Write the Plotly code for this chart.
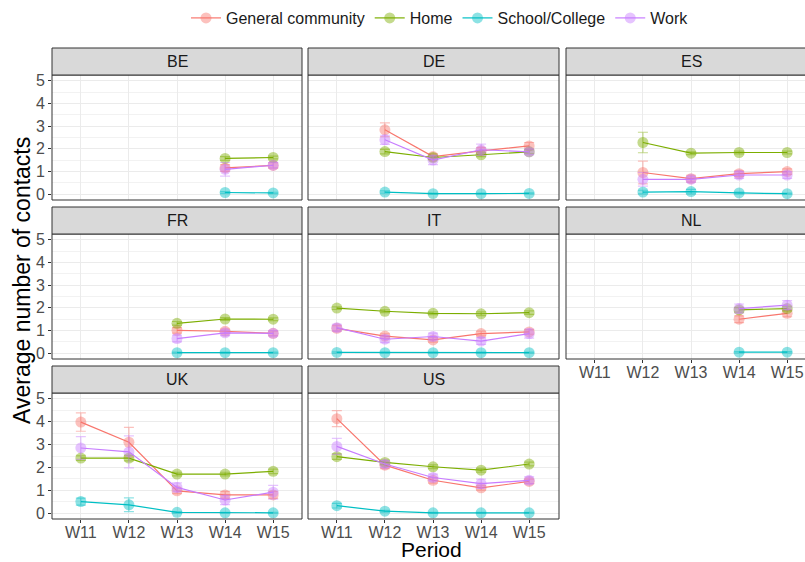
import plotly.graph_objects as go

periods = ["W11", "W12", "W13", "W14", "W15"]
countries = ["BE", "DE", "ES", "FR", "IT", "NL", "UK", "US"]
series_names = ["General community", "Home", "School/College", "Work"]

GENERAL = {
    "BE": [None, None, None, 1.16, 1.27],
    "DE": [None, 2.84, 1.66, 1.91, 2.13],
    "ES": [None, 0.96, 0.69, 0.91, 1.00],
    "FR": [None, None, 1.01, 0.97, 0.88],
    "IT": [1.10, 0.76, 0.59, 0.87, 0.94],
    "NL": [None, None, None, 1.50, 1.76],
    "UK": [3.98, 3.10, 0.98, 0.80, 0.80],
    "US": [4.13, 2.10, 1.44, 1.11, 1.39],
}
HOME = {
    "BE": [None, None, None, 1.58, 1.62],
    "DE": [None, 1.88, 1.62, 1.74, 1.87],
    "ES": [None, 2.28, 1.81, 1.84, 1.84],
    "FR": [None, None, 1.32, 1.51, 1.50],
    "IT": [1.99, 1.85, 1.76, 1.74, 1.79],
    "NL": [None, None, None, 1.91, 1.97],
    "UK": [2.41, 2.41, 1.71, 1.71, 1.83],
    "US": [2.47, 2.22, 2.03, 1.88, 2.15],
}
SCHOOL = {
    "BE": [None, None, None, 0.08, 0.06],
    "DE": [None, 0.10, 0.03, 0.03, 0.04],
    "ES": [None, 0.10, 0.12, 0.06, 0.03],
    "FR": [None, None, 0.03, 0.03, 0.03],
    "IT": [0.04, 0.03, 0.03, 0.03, 0.03],
    "NL": [None, None, None, 0.05, 0.05],
    "UK": [0.51, 0.37, 0.04, 0.02, 0.02],
    "US": [0.33, 0.09, 0.02, 0.02, 0.02],
}
WORK = {
    "BE": [None, None, None, 1.10, 1.28],
    "DE": [None, 2.40, 1.51, 1.96, 1.87],
    "ES": [None, 0.66, 0.66, 0.85, 0.85],
    "FR": [None, None, 0.65, 0.90, 0.88],
    "IT": [1.13, 0.62, 0.74, 0.54, 0.87],
    "NL": [None, None, None, 1.97, 2.12],
    "UK": [2.85, 2.68, 1.13, 0.58, 0.92],
    "US": [2.92, 2.15, 1.56, 1.29, 1.44],
}

GENERAL_ERR = {
    "BE": [None, None, None, 0.15, 0.12],
    "DE": [None, 0.30, 0.12, 0.15, 0.15],
    "ES": [None, 0.50, 0.15, 0.12, 0.12],
    "FR": [None, None, 0.12, 0.10, 0.10],
    "IT": [0.12, 0.10, 0.10, 0.10, 0.10],
    "NL": [None, None, None, 0.15, 0.15],
    "UK": [0.40, 0.65, 0.12, 0.15, 0.15],
    "US": [0.35, 0.15, 0.12, 0.10, 0.10],
}
HOME_ERR = {
    "BE": [None, None, None, 0.08, 0.06],
    "DE": [None, 0.10, 0.08, 0.08, 0.08],
    "ES": [None, 0.45, 0.06, 0.06, 0.06],
    "FR": [None, None, 0.08, 0.06, 0.06],
    "IT": [0.06, 0.06, 0.06, 0.08, 0.08],
    "NL": [None, None, None, 0.10, 0.10],
    "UK": [0.10, 0.12, 0.08, 0.08, 0.10],
    "US": [0.12, 0.10, 0.08, 0.08, 0.08],
}
SCHOOL_ERR = {
    "BE": [None, None, None, 0.04, 0.03],
    "DE": [None, 0.05, 0.02, 0.02, 0.02],
    "ES": [None, 0.08, 0.10, 0.04, 0.02],
    "FR": [None, None, 0.02, 0.02, 0.02],
    "IT": [0.03, 0.02, 0.02, 0.02, 0.02],
    "NL": [None, None, None, 0.03, 0.03],
    "UK": [0.15, 0.30, 0.03, 0.02, 0.02],
    "US": [0.10, 0.04, 0.02, 0.02, 0.02],
}
WORK_ERR = {
    "BE": [None, None, None, 0.30, 0.12],
    "DE": [None, 0.20, 0.20, 0.25, 0.12],
    "ES": [None, 0.30, 0.12, 0.15, 0.15],
    "FR": [None, None, 0.15, 0.12, 0.12],
    "IT": [0.15, 0.15, 0.15, 0.15, 0.20],
    "NL": [None, None, None, 0.20, 0.20],
    "UK": [0.50, 0.70, 0.20, 0.20, 0.30],
    "US": [0.35, 0.15, 0.15, 0.20, 0.15],
}

colors = ["#F8766D", "#7CAE00", "#00BFC4", "#C77CFF"]
fill = ["rgba(248,118,109,0.45)", "rgba(124,174,0,0.45)",
        "rgba(0,191,196,0.45)", "rgba(199,124,255,0.45)"]
values = [GENERAL, HOME, SCHOOL, WORK]
errors = [GENERAL_ERR, HOME_ERR, SCHOOL_ERR, WORK_ERR]

W, H = 805, 562
col_px = [(52, 302), (308, 559), (566, 805)]
row_px = [(75, 200), (234, 359), (393, 519)]
STRIP_H = 27
UNIT = 250 / 5.2

FONT = "Liberation Sans, Arial, sans-serif"

fig = go.Figure()
layout = dict(
    width=W, height=H, margin=dict(l=0, r=0, t=0, b=0, autoexpand=False),
    paper_bgcolor="white", plot_bgcolor="white",
    font=dict(family=FONT, color="#1A1A1A"),
    showlegend=True,
)
shapes = []
annotations = []

for i, c in enumerate(countries):
    r, k = divmod(i, 3)
    n = i + 1
    xa = "xaxis" if n == 1 else f"xaxis{n}"
    ya = "yaxis" if n == 1 else f"yaxis{n}"
    xref = "x" if n == 1 else f"x{n}"
    yref = "y" if n == 1 else f"y{n}"
    x0p, x1p = col_px[k]
    y0p, y1p = row_px[r]
    xr = [-0.6, -0.6 + (x1p - x0p) / UNIT]
    show_x = (r == 2) or (c == "NL")
    show_y = (k == 0)
    layout[xa] = dict(
        domain=[x0p / W, x1p / W], range=xr, anchor=yref, automargin=False,
        tickmode="array", tickvals=list(range(5)), ticktext=periods,
        showticklabels=show_x, ticks="outside" if show_x else "",
        ticklen=3, tickcolor="#333333", ticklabelstandoff=-4,
        tickfont=dict(size=16, color="#4D4D4D", family=FONT),
        showgrid=True, gridcolor="#EBEBEB", gridwidth=1,
        zeroline=False, showline=False, fixedrange=True,
    )
    layout[ya] = dict(
        domain=[1 - y1p / H, 1 - y0p / H], range=[-0.25, 5.25], anchor=xref,
        automargin=False,
        tickmode="array", tickvals=[0, 1, 2, 3, 4, 5],
        showticklabels=show_y, ticks="outside" if show_y else "",
        ticklen=3, tickcolor="#333333",
        tickfont=dict(size=16, color="#4D4D4D", family=FONT),
        showgrid=True, gridcolor="#EBEBEB", gridwidth=1,
        minor=dict(tickvals=[0.5, 1.5, 2.5, 3.5, 4.5], showgrid=True,
                   gridcolor="#F2F2F2", gridwidth=0.6),
        zeroline=False, showline=False, fixedrange=True,
    )
    x1_border = (x1p + 12) / W if k == 2 else x1p / W
    shapes.append(dict(type="rect", xref="paper", yref="paper",
                       x0=x0p / W, x1=x1_border, y0=1 - y1p / H, y1=1 - y0p / H,
                       line=dict(color="#333333", width=1), fillcolor="rgba(0,0,0,0)",
                       layer="above"))
    shapes.append(dict(type="rect", xref="paper", yref="paper",
                       x0=x0p / W, x1=x1_border, y0=1 - y0p / H, y1=1 - (y0p - STRIP_H) / H,
                       line=dict(color="#333333", width=1), fillcolor="#D9D9D9",
                       layer="above"))
    annotations.append(dict(text=c, xref="paper", yref="paper",
                            x=(x0p + (x1p + (12 if k == 2 else 0))) / 2 / W,
                            y=1 - (y0p - STRIP_H / 2) / H,
                            showarrow=False, xanchor="center", yanchor="middle",
                            font=dict(size=16, color="#1A1A1A", family=FONT)))
    for s in range(4):
        ys = values[s][c]
        es = errors[s][c]
        xs = [j for j in range(5) if ys[j] is not None]
        yv = [ys[j] for j in xs]
        ev = [es[j] for j in xs]
        fig.add_trace(go.Scatter(
            x=xs, y=yv, mode="lines+markers", name=series_names[s],
            legendgroup=series_names[s], showlegend=(i == 0),
            xaxis=xref, yaxis=yref,
            line=dict(color=colors[s], width=1.2),
            marker=dict(color=fill[s], size=11, line=dict(width=0)),
            error_y=dict(type="data", array=ev, visible=True,
                         color=fill[s], thickness=1.2, width=5),
            cliponaxis=True,
        ))

annotations.append(dict(text="Period", xref="paper", yref="paper",
                        x=431 / W, y=0, showarrow=False, borderpad=0,
                        xanchor="center", yanchor="bottom",
                        font=dict(size=21, color="#000000", family=FONT)))
annotations.append(dict(text="Average number of contacts", xref="paper", yref="paper",
                        x=22 / W, y=1 - 281 / H, showarrow=False, textangle=-90,
                        xanchor="center", yanchor="middle",
                        font=dict(size=23, color="#000000", family=FONT)))

layout["shapes"] = shapes
layout["annotations"] = annotations
layout["legend"] = dict(orientation="h", x=440 / W, y=1 - 18 / H,
                        xanchor="center", yanchor="middle",
                        font=dict(size=16, color="#1A1A1A", family=FONT),
                        itemwidth=30, bgcolor="rgba(0,0,0,0)", tracegroupgap=0)
fig.update_layout(**layout)
fig.write_html(
    "out.html",
    config={"displayModeBar": False},
    post_script="document.body.style.margin='0';document.body.style.overflow='hidden';",
)
